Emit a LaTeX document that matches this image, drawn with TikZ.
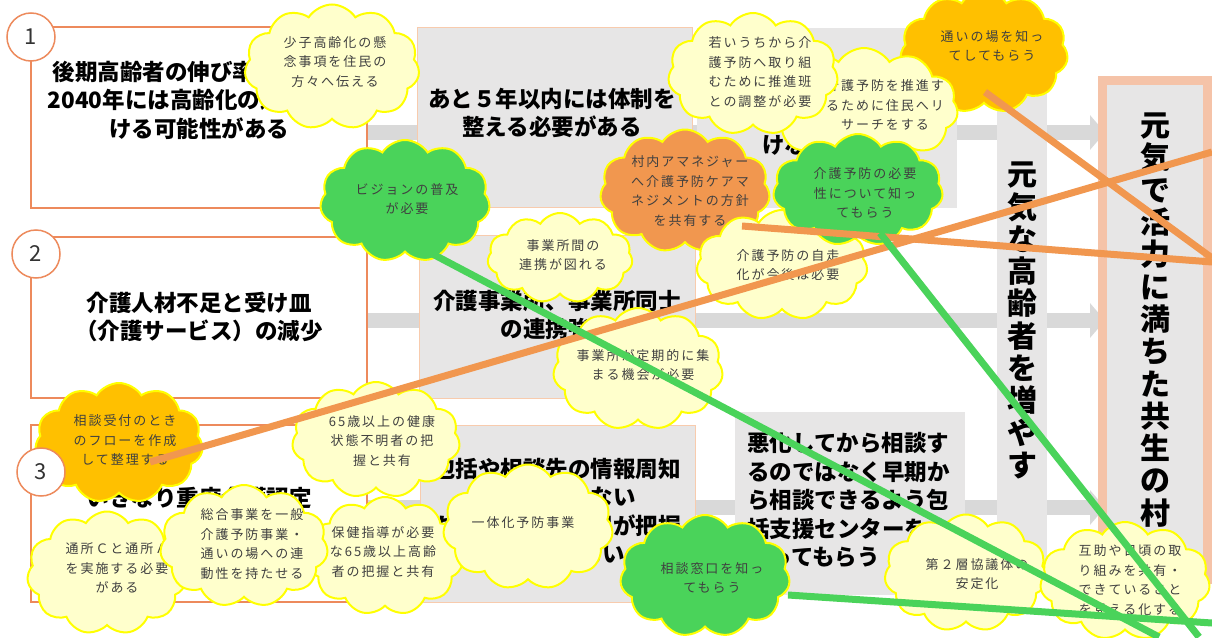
\documentclass[tikz,border=0pt]{standalone}
\usepackage{fontspec}
\setmainfont{Noto Sans CJK JP}
\newfontfamily\cfont[LetterSpace=15]{Noto Sans CJK JP}
\usetikzlibrary{shapes.symbols,arrows.meta}
\definecolor{boxor}{RGB}{237,138,92}
\definecolor{pinkb}{RGB}{248,203,173}
\definecolor{goalb}{RGB}{245,195,168}
\definecolor{greyf}{RGB}{231,230,230}
\definecolor{bandc}{RGB}{217,217,217}
\definecolor{cyel}{RGB}{255,255,0}
\definecolor{lyel}{RGB}{255,255,204}
\definecolor{cgreen}{RGB}{74,211,90}
\definecolor{corange}{RGB}{241,151,79}
\definecolor{camber}{RGB}{255,192,0}
\definecolor{ctxt}{RGB}{64,64,64}
\newcommand\cld[7]{%
  \node[cloudb, fill=#2, minimum width=#4, minimum height=#5] (#1) at #3 {};
  \node[ctext] (#1t) at #6 {#7};}
\begin{document}
\begin{tikzpicture}[x=1pt,y=-1pt,
  obox/.style={draw=boxor, line width=1.5pt, fill=white, inner sep=0pt},
  gbox/.style={draw=pinkb, line width=1pt, fill=greyf, inner sep=0pt},
  plainbox/.style={fill=greyf, inner sep=0pt},
  goalbox/.style={draw=goalb, line width=9pt, fill=greyf, inner sep=0pt},
  btext/.style={font=\bfseries\fontsize{22.5}{28.5}\selectfont, align=center, inner sep=0pt},
  vtext/.style={font=\bfseries\fontsize{30}{32.3}\selectfont, align=center, inner sep=0pt},
  numc/.style={circle, draw=boxor, line width=1.5pt, fill=white, minimum size=48pt, inner sep=0pt, font=\fontsize{22}{22}\selectfont, text=black!80},
  cloudb/.style={cloud, cloud puffs=11, cloud puff arc=115, cloud ignores aspect, draw=cyel, line width=2pt, inner sep=0pt},
  ctext/.style={font=\cfont\fontsize{13}{19.5}\selectfont, align=center, inner sep=0pt, text=ctxt},
  bandarrow/.style={draw=bandc, line width=15pt, -{Triangle[length=15pt,width=34pt]}},
  olink/.style={draw=corange, line width=7pt},
  glink/.style={draw=cgreen, line width=7pt}]
\fill[white] (0,0) rectangle (1212,637);
\useasboundingbox (0,0) rectangle (1212,637);

% arrow bands
\coordinate (a1s) at (367,132.5); \coordinate (a1e) at (1105,132.5);
\coordinate (a2s) at (367,320.5); \coordinate (a2e) at (1105,320.5);
\coordinate (a3s) at (367,507.5); \coordinate (a3e) at (1105,507.5);
\draw[bandarrow] (a1s) -- (a1e);
\draw[bandarrow] (a2s) -- (a2e);
\draw[bandarrow] (a3s) -- (a3e);

% left boxes
\node[obox, minimum width=336, minimum height=181] (b1) at (199,117.5) {};
\node[obox, minimum width=336, minimum height=161] (b2) at (199,317.5) {};
\node[obox, minimum width=336, minimum height=177] (b3) at (199,513.5) {};
\node[btext] (t1) at (199,100) {後期高齢者の伸び率が高く、\\2040年には高齢化の進行が続\\ける可能性がある};
\node[btext] (t2) at (199,317) {介護人材不足と受け皿\\（介護サービス）の減少};
\node[btext] (t3) at (199,498) {いきなり重度介護認定};

% middle boxes
\node[gbox, minimum width=275, minimum height=180] (g1) at (554.5,117) {};
\node[gbox, minimum width=276, minimum height=163] (g2) at (557,316.5) {};
\node[gbox, minimum width=275, minimum height=177] (g3) at (557.5,513.5) {};
\node[btext] (tg1) at (552,113) {あと５年以内には体制を\\整える必要がある};
\node[btext] (tg2) at (557,315) {介護事業所、事業所同士\\の連携強化};
\node[btext] (tg3) at (557,511) {包括や相談先の情報周知\\ができていない\\ため、住民の状況が把握\\できていない};

\node[plainbox, minimum width=260, minimum height=180] (g4) at (827,118) {};
\node[btext, anchor=west] (tg4) at (762,145) {けな};
\node[plainbox, minimum width=230, minimum height=183] (h1) at (850,503.5) {};
\node[btext, align=left, anchor=west] (th1) at (747,500) {悪化してから相談す\\るのではなく早期か\\ら相談できるよう包\\括支援センターを\\知ってもらう};

% vertical boxes
\node[plainbox, minimum width=50, minimum height=505] (v1) at (1022,337.5) {};
\node[vtext] (tv1) at (1022,320.5) {元\\気\\な\\高\\齢\\者\\を\\増\\や\\す};
\node[goalbox, minimum width=105, minimum height=499.5] (goal) at (1155,330) {};
\node[vtext] (tgoal) at (1155,320) {元\\気\\で\\活\\力\\に\\満\\ち\\た\\共\\生\\の\\村};

% clouds
\cld{c1}{lyel}{(332,67)}{175}{125}{(335,62)}{少子高齢化の懸\\念事項を住民の\\方々へ伝える}
\cld{c2}{cgreen}{(405,201)}{170}{122}{(407,199)}{ビジョンの普及\\が必要}
\cld{c5}{camber}{(984,52)}{168}{122}{(992,46)}{通いの場を知っ\\てしてもらう}
\cld{c4}{lyel}{(864,108)}{188}{120}{(885,105)}{介護予防を推進す\\るために住民へリ\\サーチをする}
\cld{c3}{lyel}{(753,74)}{170}{122}{(760,72)}{若いうちから介\\護予防へ取り組\\むために推進班\\との調整が必要}
\cld{c7}{corange}{(685,191)}{170}{123}{(690,191)}{村内アマネジャー\\へ介護予防ケアマ\\ネジメントの方針\\を共有する}
\cld{c9}{lyel}{(782,265)}{171}{110}{(788,265)}{介護予防の自走\\化が今後は必要}
\cld{c6}{cgreen}{(858,190)}{170}{112}{(865,193)}{介護予防の必要\\性について知っ\\てもらう}
\cld{c8}{lyel}{(560,258)}{145}{90}{(563,255)}{事業所間の\\連携が図れる}
\cld{c10}{lyel}{(638,369)}{170}{122}{(643,365)}{事業所が定期的に集\\まる機会が必要}
\cld{c12}{lyel}{(376,440)}{168}{116}{(382,441)}{65歳以上の健康\\状態不明者の把\\握と共有}
\cld{c11}{camber}{(119,443)}{168}{120}{(125,440)}{相談受付のとき\\のフローを作成\\して整理する}
\cld{c15}{lyel}{(385,556)}{156}{118}{(383,552)}{保健指導が必要\\な65歳以上高齢\\者の把握と共有}
\cld{c14}{lyel}{(107,573)}{160}{123}{(117,568)}{通所Ｃと通所Ａ\\を実施する必要\\がある}
\cld{c13}{lyel}{(244,546)}{168}{122}{(252,544)}{総合事業を一般\\介護予防事業・\\通いの場への連\\動性を持たせる}
\cld{c16}{lyel}{(528,527)}{170}{125}{(523,523)}{一体化予防事業}
\cld{c17}{cgreen}{(705,576)}{170}{122}{(712,578)}{相談窓口を知っ\\てもらう}
\cld{c18}{lyel}{(966,573)}{163}{117}{(977,574)}{第２層協議体の\\安定化}
\cld{c19}{lyel}{(1125,581)}{170}{118}{(1130,580)}{互助や日頃の取\\り組みを共有・\\できていること\\を見える化する}

% number circles
\node[numc] (n1) at (31,37) {1};
\node[numc] (n2) at (36,254) {2};
\node[numc] (n3) at (41,472) {3};

% links
\coordinate (la1) at (150,462); \coordinate (la2) at (1212,152);
\coordinate (lb1) at (742,226); \coordinate (lb2) at (1212,262);
\coordinate (lc1) at (985,92);  \coordinate (lc2) at (1212,258);
\coordinate (ld1) at (425,250); \coordinate (ld2) at (1159,637);
\coordinate (le1) at (880,233); \coordinate (le2) at (1199,637);
\coordinate (lf1) at (788,595); \coordinate (lf2) at (1212,623);
\draw[olink] (la1) -- (la2);
\draw[olink] (lb1) -- (lb2);
\draw[olink] (lc1) -- (lc2);
\draw[glink] (ld1) -- (ld2);
\draw[glink] (le1) -- (le2);
\draw[glink] (lf1) -- (lf2);
\end{tikzpicture}
\end{document}
